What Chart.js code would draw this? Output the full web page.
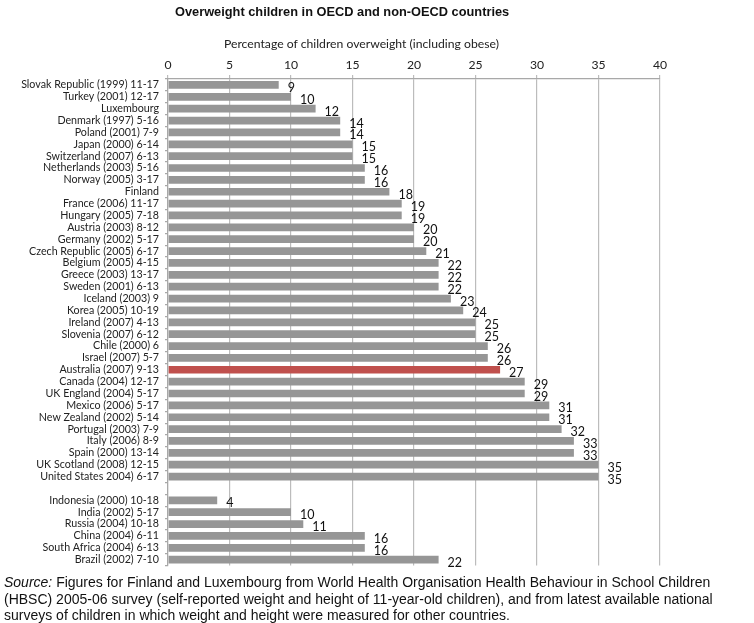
<!DOCTYPE html>
<html>
<head>
<meta charset="utf-8">
<script src="https://cdn.jsdelivr.net/npm/chart.js@4"></script>
<style>
  body { margin: 0; background: #fff; }
  #wrap { position: relative; width: 754px; height: 623px; }
  #titulo { position: absolute; left: 175px; top: 4px; white-space: nowrap;
    font: bold 12.8px "Liberation Sans", Arial, sans-serif; color: #111; }
  #eixo { position: absolute; left: 224px; top: 36px; white-space: nowrap;
    font: 12.2px Lato, sans-serif; color: #222; }
  #graf { position: absolute; left: 0; top: 0; width: 754px; height: 578px; }
  #fonte { position: absolute; left: 4px; top: 574px; white-space: nowrap;
    font: 14px "Liberation Sans", Arial, sans-serif; color: #111; line-height: 16.5px; }
</style>
</head>
<body>
<div id="wrap">
  <div id="graf"><canvas id="graficoBarras"></canvas></div>
  <div id="titulo">Overweight children in OECD and non-OECD countries</div>
  <div id="eixo">Percentage of children overweight (including obese)</div>
  <div id="fonte"><i>Source:</i> Figures for Finland and Luxembourg from World Health Organisation Health Behaviour in School Children<br>(HBSC) 2005-06 survey (self-reported weight and height of 11-year-old children), and from latest available national<br>surveys of children in which weight and height were measured for other countries.</div>
</div>
<script>
const paises = [
  'Slovak Republic (1999) 11-17', 'Turkey (2001) 12-17', 'Luxembourg', 'Denmark (1997) 5-16',
  'Poland (2001) 7-9', 'Japan (2000) 6-14', 'Switzerland (2007) 6-13', 'Netherlands (2003) 5-16',
  'Norway (2005) 3-17', 'Finland', 'France (2006) 11-17', 'Hungary (2005) 7-18',
  'Austria (2003) 8-12', 'Germany (2002) 5-17', 'Czech Republic (2005) 6-17', 'Belgium (2005) 4-15',
  'Greece (2003) 13-17', 'Sweden (2001) 6-13', 'Iceland (2003) 9', 'Korea (2005) 10-19',
  'Ireland (2007) 4-13', 'Slovenia (2007) 6-12', 'Chile (2000) 6', 'Israel (2007) 5-7',
  'Australia (2007) 9-13', 'Canada (2004) 12-17', 'UK England (2004) 5-17', 'Mexico (2006) 5-17',
  'New Zealand (2002) 5-14', 'Portugal (2003) 7-9', 'Italy (2006) 8-9', 'Spain (2000) 13-14',
  'UK Scotland (2008) 12-15', 'United States 2004) 6-17',
  '',
  'Indonesia (2000) 10-18', 'India (2002) 5-17', 'Russia (2004) 10-18', 'China (2004) 6-11',
  'South Africa (2004) 6-13', 'Brazil (2002) 7-10'
];
const valores = [
  9, 10, 12, 14, 14, 15, 15, 16, 16, 18, 19, 19, 20, 20, 21, 22, 22, 22, 23, 24,
  25, 25, 26, 26, 27, 29, 29, 31, 31, 32, 33, 33, 35, 35,
  null,
  4, 10, 11, 16, 16, 22
];
const destaque = 'Australia (2007) 9-13';
const ticksX = [0, 5, 10, 15, 20, 25, 30, 35, 40];

const cores = paises.map(p => p === destaque ? '#c0504d' : '#969696');

// rótulos de valor no fim de cada barra
const rotulos = {
  id: 'rotulos',
  afterDatasetsDraw(chart) {
    const ctx = chart.ctx;
    const meta = chart.getDatasetMeta(0);
    ctx.save();
    ctx.font = '12.5px Lato, "Open Sans", sans-serif';
    ctx.fillStyle = '#111';
    ctx.textBaseline = 'middle';
    meta.data.forEach((bar, i) => {
      if (valores[i] == null) return;
      ctx.fillText(String(valores[i]), bar.x + 9, bar.y + 3);
    });
    ctx.restore();
  }
};

const ctx = document.getElementById('graficoBarras').getContext('2d');
new Chart(ctx, {
  type: 'bar',
  data: {
    labels: paises,
    datasets: [{
      data: valores,
      backgroundColor: cores,
      barPercentage: 0.65,
      categoryPercentage: 1.0
    }]
  },
  options: {
    indexAxis: 'y',
    responsive: true,
    maintainAspectRatio: false,
    animation: false,
    layout: { padding: { top: 54, right: 94, bottom: 0, left: 0 } },
    plugins: {
      legend: { display: false },
      tooltip: { enabled: false }
    },
    scales: {
      x: {
        position: 'top',
        min: 0,
        max: 40,
        afterFit: s => { s.height = 25; },
        grid: { display: true, drawOnChartArea: true, color: '#bcbcbc', lineWidth: 1.2, drawTicks: true, tickLength: 4 },
        border: { display: true, color: '#a8a8a8', width: 1.2 },
        ticks: {
          stepSize: 5,
          color: '#222',
          font: { family: 'Lato', size: 12.2 },
          padding: 3,
          callback: v => ticksX.includes(v) ? v : ''
        }
      },
      y: {
        afterFit: s => { s.width = 168; },
        grid: { display: true, drawOnChartArea: false, drawTicks: true, tickLength: 3, color: '#a8a8a8', lineWidth: 1.2 },
        border: { display: true, color: '#a8a8a8', width: 1.2 },
        ticks: {
          autoSkip: false,
          color: '#222',
          font: { family: 'Lato', size: 10.7 },
          padding: 6
        }
      }
    }
  },
  plugins: [rotulos]
});
</script>
</body>
</html>
